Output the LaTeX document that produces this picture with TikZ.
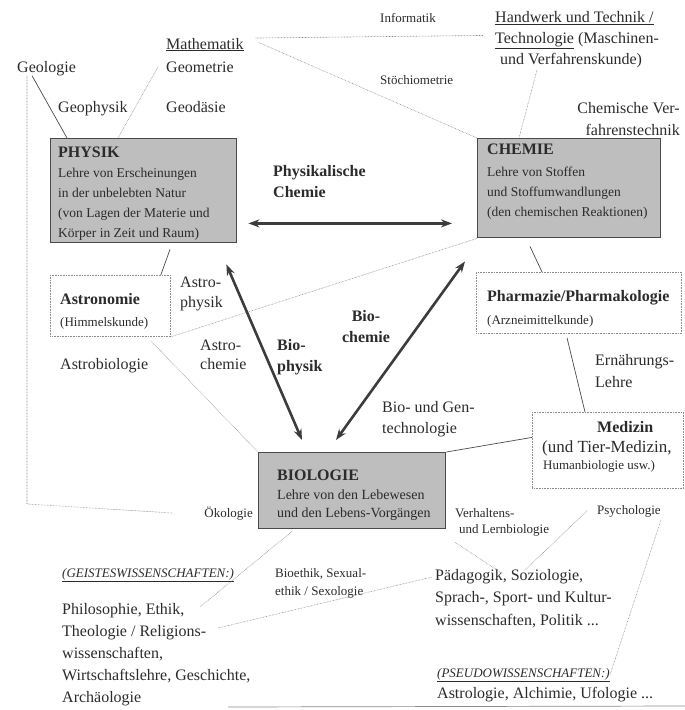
\documentclass[tikz,border=0pt]{standalone}
\usepackage{fontspec}
\setmainfont{Liberation Serif}
\usetikzlibrary{arrows.meta}
\definecolor{ink}{HTML}{2B2B2B}
\definecolor{boxgray}{HTML}{BEBEBE}
\definecolor{rahmen}{HTML}{4A4A4A}
\definecolor{punkt}{HTML}{8A8A8A}
\definecolor{pfeilgrau}{HTML}{3C3C3C}
\tikzset{
  txt/.style={inner sep=0pt, text=ink, font=\fontsize{16}{21}\selectfont},
  klein/.style={txt, font=\fontsize{13}{17}\selectfont},
  titel/.style={txt, font=\fontsize{16}{21}\selectfont\bfseries},
  boxtext/.style={txt, font=\fontsize{13.5}{20}\selectfont, align=left, anchor=north west},
  fach/.style={draw=rahmen, fill=boxgray, line width=1.4pt, inner sep=0pt, anchor=north west},
  nebenfach/.style={draw=punkt, dash pattern=on 0.7pt off 0.9pt, line width=0.8pt, inner sep=0pt, anchor=north west},
  punktlinie/.style={draw=punkt, line width=0.6pt, dash pattern=on 0.6pt off 0.9pt},
  linie/.style={draw=rahmen, line width=0.7pt},
  pfeil/.style={{Stealth[length=11pt,width=8pt]}-{Stealth[length=11pt,width=8pt]}, line width=2.6pt, draw=pfeilgrau},
}
\begin{document}
\begin{tikzpicture}[x=1pt,y=-1pt]
\useasboundingbox (0,0) rectangle (685,710);

\node[fach, minimum width=186, minimum height=104] (phys) at (50,138) {};
\node[fach, minimum width=183, minimum height=99] (chem) at (477,138) {};
\node[fach, minimum width=187, minimum height=76] (bio) at (258,452) {};
\node[nebenfach, minimum width=120, minimum height=61] (astr) at (50,275) {};
\node[nebenfach, minimum width=205, minimum height=61] (pharm) at (476,272) {};
\node[nebenfach, minimum width=151, minimum height=76] (med) at (532,412) {};

\node[titel, anchor=base west] (physT) at (58,157) {PHYSIK};
\node[boxtext] (physB) at (58,168) {Lehre von Erscheinungen\\in der unbelebten Natur\\(von Lagen der Materie und\\Körper in Zeit und Raum)};
\node[titel, anchor=base west] (chemT) at (487,154) {CHEMIE};
\node[boxtext] (chemB) at (487,167) {Lehre von Stoffen\\und Stoffumwandlungen\\(den chemischen Reaktionen)};
\node[titel, anchor=base west] (bioT) at (277,480) {BIOLOGIE};
\node[boxtext, font=\fontsize{14}{17.5}\selectfont] (bioB) at (277,490) {Lehre von den Lebewesen\\und den Lebens-Vorgängen};
\node[titel, anchor=base west] (astrT) at (60,304) {Astronomie};
\node[klein, anchor=base west] (astrB) at (60,326) {(Himmelskunde)};
\node[titel, anchor=base west] (pharmT) at (487,301) {Pharmazie/Pharmakologie};
\node[klein, anchor=base west] (pharmB) at (487,324) {(Arzneimittelkunde)};
\node[titel, anchor=base west] (medT) at (597,432) {Medizin};
\node[txt, font=\fontsize{17}{20}\selectfont, anchor=base west] (medB) at (542,452) {(und Tier-Medizin,};
\node[klein, anchor=base west] (medC) at (543,469) {Humanbiologie usw.)};

\node[txt, anchor=base west] (geol) at (17,72) {Geologie};
\node[txt, anchor=base west] (math) at (166,49) {\underline{Mathematik}};
\node[txt, anchor=base west] (geom) at (166,72) {Geometrie};
\node[txt, anchor=base west] (geoph) at (58,112) {Geophysik};
\node[txt, anchor=base west] (geod) at (166,112) {Geodäsie};
\node[klein, anchor=base west] (info) at (380,22) {Informatik};
\node[klein, anchor=base west] (stoech) at (380,84) {Stöchiometrie};
\node[txt, align=left, anchor=north west] (handw) at (495,11) {\underline{Handwerk und Technik /}\\\underline{Technologie} (Maschinen-\\\hspace*{5pt}und Verfahrenskunde)};
\node[txt, font=\fontsize{16}{22}\selectfont, align=right, anchor=north east] (chemver) at (680,102) {Chemische Ver-\\fahrenstechnik};
\node[titel, align=left, anchor=north west] (physchem) at (273,165) {Physikalische\\Chemie};

\node[txt, font=\fontsize{16}{20}\selectfont, align=left, anchor=north west] (astroph) at (180,277) {Astro-\\physik};
\node[txt, anchor=base west] (astrobio) at (60,369) {Astrobiologie};
\node[txt, font=\fontsize{16}{19}\selectfont, align=left, anchor=north west] (astroch) at (200,340) {Astro-\\chemie};
\node[titel, align=left, anchor=north west] (biophys) at (277,339) {Bio-\\physik};
\node[titel, align=center, anchor=north] (biochem) at (366,310) {Bio-\\chemie};
\node[txt, font=\fontsize{16}{22}\selectfont, align=left, anchor=north west] (ernaehr) at (595,354) {Ernährungs-\\Lehre};
\node[txt, align=left, anchor=north west] (gentech) at (382,401) {Bio- und Gen-\\technologie};
\node[klein, anchor=base east] (oeko) at (253,517) {Ökologie};

\node[klein, anchor=base west] (geist) at (62,577) {\underline{\textit{(GEISTESWISSENSCHAFTEN:)}}};
\node[klein, font=\fontsize{13}{18}\selectfont, align=left, anchor=north west] (bioeth) at (275,568) {Bioethik, Sexual-\\ethik / Sexologie};
\node[txt, font=\fontsize{16}{22}\selectfont, align=left, anchor=north west] (phil) at (62,603) {Philosophie, Ethik,\\Theologie / Religions-\\wissenschaften,\\Wirtschaftslehre, Geschichte,\\Archäologie};
\node[klein, font=\fontsize{13}{16}\selectfont, align=left, anchor=north west] (verh) at (455,508) {Verhaltens-\\\hspace*{4pt}und Lernbiologie};
\node[klein, anchor=base west] (psych) at (597,514) {Psychologie};
\node[txt, font=\fontsize{16}{22.5}\selectfont, align=left, anchor=north west] (pad) at (435,569) {Pädagogik, Soziologie,\\Sprach-, Sport- und Kultur-\\wissenschaften, Politik ...};
\node[klein, anchor=base west] (pseudo) at (437,677) {\underline{\textit{(PSEUDOWISSENSCHAFTEN:)}}};
\node[txt, anchor=base west] (astrol) at (437,698) {Astrologie, Alchimie, Ufologie ...};

\coordinate (ecke) at (27,504);
\draw[linie] ([xshift=15pt]geol.south west) -- ([xshift=17pt]phys.north west);
\draw[punktlinie] ([xshift=-8pt]geom.west) -- ([xshift=68pt]phys.north west);
\draw[punktlinie] ([xshift=10pt]geol.south west) -- (ecke) -- ([xshift=-30pt]oeko.west);
\draw[punktlinie] ([xshift=12pt,yshift=6.5pt]math.east) -- ([xshift=-12pt,yshift=4pt]handw.west);
\draw[punktlinie] ([xshift=15pt,yshift=2pt]math.east) -- (chem.north west);
\draw[punktlinie] ([xshift=42pt,yshift=-2pt]handw.south west) -- ([xshift=42pt]chem.north west);
\draw[linie] ([xshift=120pt,yshift=-6pt]phys.south west) -- ([xshift=-10pt]astr.north east);
\draw[punktlinie] (astr.south east) -- (chem.south west);
\draw[punktlinie] ([xshift=-20pt,yshift=-4pt]astr.south east) -- (bio.north west);
\draw[linie] ([xshift=53pt,yshift=-8pt]chem.south west) -- ([xshift=66pt]pharm.north west);
\draw[linie] ([xshift=91pt,yshift=-4pt]pharm.south west) -- ([xshift=53pt]med.north west);
\draw[linie] ([yshift=13pt]med.west) -- (bio.north east);
\draw[punktlinie] ([xshift=34pt,yshift=-2pt]bio.south west) -- ([xshift=138pt,yshift=-4pt]phil.north west);
\draw[punktlinie] ([xshift=156pt,yshift=-25pt]phil.north west) -- ([xshift=-3pt,yshift=-8pt]pad.north west);
\draw[punktlinie] ([yshift=-6pt]verh.south west) -- ([xshift=65pt,yshift=-3pt]pad.north west);
\draw[punktlinie] ([xshift=-10pt]psych.west) -- ([xshift=89pt,yshift=-2pt]pad.north west);
\draw[punktlinie] ([yshift=-3pt]psych.south east) -- (pseudo.east);
\draw[linie, draw=punkt] (228,707) -- (685,706);

\draw[pfeil] ([xshift=11pt,yshift=20pt]phys.south east) -- ([xshift=-25pt,yshift=15pt]chem.south west);
\draw[pfeil] ([xshift=-11pt,yshift=-21pt]phys.south east) -- ([xshift=44pt,yshift=12pt]bio.north west);
\draw[pfeil] ([xshift=-12pt,yshift=-23pt]chem.south west) -- ([xshift=78pt,yshift=12pt]bio.north west);
\end{tikzpicture}
\end{document}
